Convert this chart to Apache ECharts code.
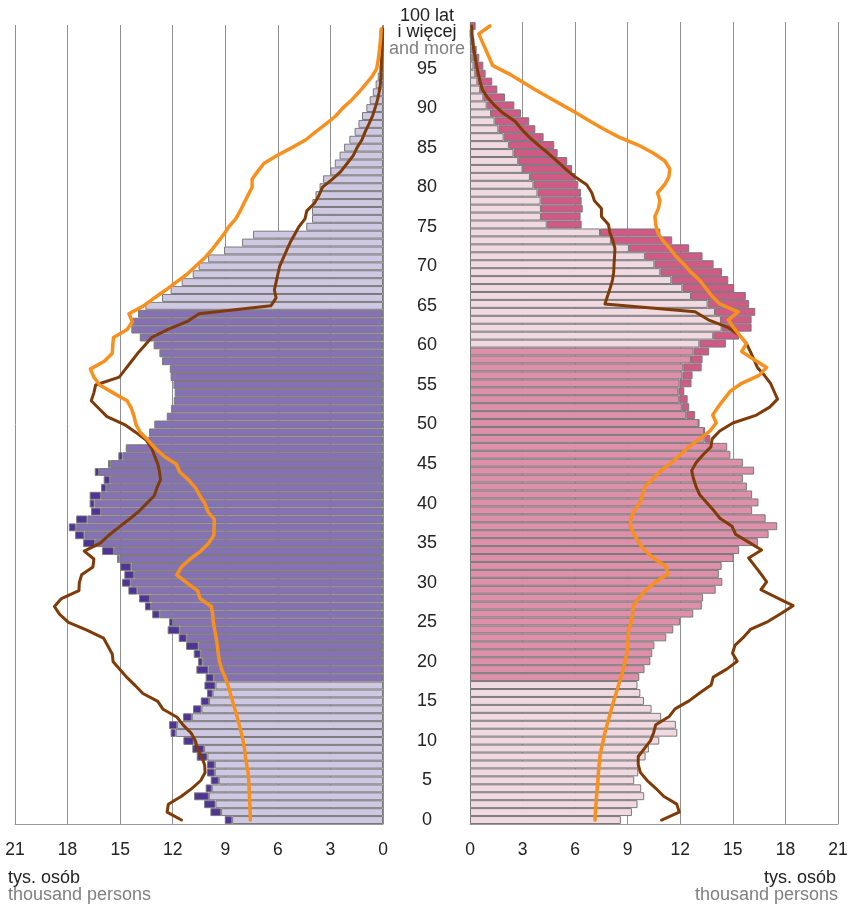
<!DOCTYPE html>
<html>
<head>
<meta charset="utf-8">
<script src="https://cdn.jsdelivr.net/npm/echarts@6/dist/echarts.min.js"></script>
<style>
  html, body { margin: 0; padding: 0; background: #fff; }
  #chart { width: 851px; height: 907px; }
</style>
</head>
<body>
<div id="chart"></div>
<script>
// ages 0..100 (100 = "100 lat i więcej")
var ages = [];
for (var a = 0; a <= 100; a++) ages.push(String(a));

// population, thousand persons (bars)
var males = [
  9.03, 9.85, 10.21, 10.78, 10.12, 9.83, 10.04, 10.04, 10.63, 10.88,
  11.39, 12.12, 12.21, 11.41, 10.84, 10.40, 10.04, 10.19, 10.12, 10.65,
  10.55, 10.80, 11.24, 11.66, 12.29, 12.21, 13.17, 13.58, 13.92, 14.53,
  14.89, 14.76, 14.99, 15.17, 16.03, 17.11, 17.57, 17.93, 17.51, 16.66,
  16.74, 16.74, 16.09, 15.94, 16.45, 15.69, 15.10, 14.68, 13.39, 13.35,
  13.05, 12.34, 12.09, 11.94, 11.89, 11.96, 12.12, 12.17, 12.61, 12.76,
  13.09, 13.88, 14.36, 14.32, 13.98, 13.56, 12.61, 12.12, 11.49, 10.86,
  10.52, 9.98, 9.07, 8.04, 7.42, 4.38, 4.05, 4.05, 4.03, 3.85,
  3.62, 3.42, 3.00, 2.75, 2.48, 2.22, 1.92, 1.62, 1.40, 1.20,
  0.95, 0.76, 0.58, 0.42, 0.30, 0.20, 0.13, 0.08, 0.05, 0.03,
  0.05
];
var females = [
  8.61, 9.24, 9.56, 9.94, 9.77, 9.37, 9.60, 9.60, 10.02, 10.21,
  10.80, 11.83, 11.75, 10.91, 10.36, 9.93, 9.72, 9.56, 9.66, 9.96,
  10.29, 10.40, 10.52, 11.20, 11.60, 11.98, 12.74, 13.23, 13.30, 14.02,
  14.40, 14.20, 14.36, 15.05, 15.36, 16.43, 17.04, 17.53, 16.87, 16.10,
  16.46, 16.10, 15.80, 15.57, 16.21, 15.57, 14.86, 14.68, 13.71, 13.42,
  13.07, 12.85, 12.51, 12.42, 12.23, 12.64, 12.70, 13.22, 13.27, 13.65,
  14.60, 15.35, 16.07, 16.07, 16.28, 15.93, 15.74, 15.08, 14.74, 14.38,
  13.90, 13.27, 12.51, 11.54, 10.86, 6.37, 6.31, 6.43, 6.37, 6.33,
  6.18, 5.99, 5.82, 5.55, 5.00, 4.81, 4.20, 3.73, 3.38, 2.91,
  2.53, 2.00, 1.56, 1.27, 0.89, 0.76, 0.53, 0.38, 0.25, 0.15,
  0.32
];

// comparison lines (thousand persons)
var brownM = [
  11.5, 12.32, 12.25, 11.5, 10.9, 10.4, 10.15, 10.18, 10.35, 10.6,
  10.7, 10.95, 11.4, 11.75, 12.55, 12.85, 13.7, 14.14, 14.6, 15.0,
  15.4, 15.45, 15.7, 15.95, 16.9, 17.95, 18.45, 18.75, 18.35, 17.35,
  17.33, 17.2, 16.55, 16.5, 17.05, 16.13, 15.65, 15.08, 14.5, 13.94,
  13.5, 13.05, 12.9, 12.7, 12.75, 12.85, 13.03, 13.2, 13.5, 14.1,
  14.75, 15.75, 16.2, 16.65, 16.5, 16.4, 15.05, 14.7, 14.35, 14.0,
  13.6, 13.2, 12.3, 11.2, 10.5, 6.4, 6.1, 6.2, 6.1, 6.0,
  5.9, 5.7, 5.5, 5.3, 5.05, 4.8, 4.45, 4.35, 3.9, 3.65,
  3.45, 2.9, 2.4, 2.05, 1.7, 1.48, 1.2, 1.02, 0.8, 0.6,
  0.45, 0.32, 0.22, 0.15, 0.12, 0.1, 0.08, 0.06, 0.04, 0.03,
  0.02
];
var orangeM = [
  7.57, 7.58, 7.6, 7.62, 7.64, 7.66, 7.7, 7.78, 7.85, 7.9,
  7.98, 8.08, 8.2, 8.32, 8.45, 8.58, 8.71, 8.84, 9.0, 9.2,
  9.33, 9.4, 9.45, 9.52, 9.6, 9.68, 9.72, 9.8, 10.44, 10.58,
  11.2, 11.77, 11.5, 11.0, 10.4, 9.95, 9.65, 9.64, 9.62, 10.0,
  10.16, 10.45, 10.7, 11.1, 11.6, 11.8, 12.5, 13.0, 13.4, 13.85,
  14.1, 14.2, 14.35, 14.6, 15.4, 16.17, 16.5, 16.7, 15.9, 15.45,
  15.42, 15.38, 14.6, 14.3, 14.5, 13.66, 13.05, 12.4, 11.8, 11.18,
  10.7, 10.2, 9.8, 9.45, 9.1, 8.8, 8.4, 8.15, 7.93, 7.7,
  7.47, 7.47, 7.15, 6.8, 6.05, 5.2, 4.4, 3.85, 3.25, 2.7,
  2.3, 1.8, 1.38, 1.0, 0.62, 0.36, 0.28, 0.22, 0.17, 0.13,
  0.11
];
var brownF = [
  10.93, 11.94, 11.8, 11.05, 10.6, 10.1, 9.72, 9.6, 9.6, 9.95,
  10.3, 10.48, 10.6, 11.35, 11.7, 12.5, 13.1, 13.76, 13.88, 14.65,
  15.25, 14.98, 15.12, 15.6, 16.0, 17.0, 17.75, 18.44, 17.5, 16.6,
  16.93, 16.6, 16.25, 15.9, 16.64, 15.9, 15.15, 14.95, 14.26, 13.9,
  13.5, 13.1, 12.9, 12.75, 12.65, 12.9, 13.3, 13.75, 13.82, 14.25,
  15.0, 16.35, 17.1, 17.55, 17.35, 17.15, 16.8, 16.4, 16.2, 16.0,
  15.78, 15.4, 14.75, 13.6, 12.84, 7.7, 7.85, 8.0, 8.13, 8.2,
  8.22, 8.25, 8.27, 8.15, 7.98, 7.9, 7.5, 7.5, 7.1, 6.95,
  6.66, 5.99, 5.45, 4.95, 4.45, 3.9, 3.38, 2.95, 2.57, 1.9,
  1.4, 1.0, 0.7, 0.58, 0.47, 0.38, 0.3, 0.22, 0.16, 0.12,
  0.1
];
var orangeF = [
  7.13, 7.16, 7.19, 7.22, 7.26, 7.3, 7.33, 7.37, 7.41, 7.5,
  7.6, 7.7, 7.82, 7.95, 8.07, 8.2, 8.34, 8.48, 8.62, 8.74,
  8.85, 8.95, 9.01, 9.02, 9.05, 9.2, 9.28, 9.32, 9.65, 10.05,
  10.6, 11.3, 11.15, 10.45, 9.95, 9.62, 9.35, 9.15, 9.18, 9.4,
  9.7, 9.85, 10.0, 10.45, 10.9, 11.5, 12.0, 12.5, 13.1, 13.7,
  14.05, 13.85, 14.15, 14.5, 14.85, 15.5, 16.5, 16.93, 16.2, 15.5,
  15.78, 15.4, 15.05, 14.74, 15.3, 14.25, 13.8, 13.45, 13.1, 12.6,
  12.2, 11.75, 11.4, 11.0, 10.7, 10.6, 10.55, 10.75, 10.84, 10.7,
  11.1, 11.35, 11.4, 11.12, 10.45, 9.6, 8.5, 7.65, 6.85, 6.1,
  5.3, 4.5, 3.7, 2.95, 2.2, 1.3, 1.1, 0.9, 0.7, 0.5,
  1.14
];

var xTicks = { min: 0, max: 21, interval: 3 };
var workMale = [18, 64];
var workFemale = [18, 59];

var FONT = 'Liberation Sans, Arial, sans-serif';
var EDGE = '#7a7a7a';

var mBase = [], mExtra = [], fBase = [], fExtra = [];
for (var i = 0; i < ages.length; i++) {
  var lo = Math.min(males[i], females[i]);
  mBase.push(lo);
  fBase.push(lo);
  mExtra.push(males[i] > females[i] ? +(males[i] - females[i]).toFixed(2) : '-');
  fExtra.push(females[i] > males[i] ? +(females[i] - males[i]).toFixed(2) : '-');
}

var dom = document.getElementById('chart');
var myChart = echarts.init(dom, null, { renderer: 'canvas' });

function xAxisFor(grid, inverse) {
  return {
    gridIndex: grid,
    type: 'value',
    min: xTicks.min,
    max: xTicks.max,
    interval: xTicks.interval,
    inverse: inverse,
    axisLine: { show: true, lineStyle: { color: '#999', width: 1 } },
    axisTick: { show: false },
    axisLabel: { color: '#222', fontSize: 17.5, fontFamily: FONT, margin: 17 },
    splitLine: { show: true, lineStyle: { color: '#8f8f8f', width: 1 } }
  };
}

var option = {
  animation: false,
  backgroundColor: '#fff',
  textStyle: { fontFamily: FONT },
  grid: [
    { left: 15, top: 22, width: 368, height: 802 },
    { left: 470, top: 22, width: 368, height: 802 }
  ],
  xAxis: [xAxisFor(0, true), xAxisFor(1, false)],
  yAxis: [
    {
      gridIndex: 0,
      type: 'category',
      data: ages,
      position: 'right',
      axisLine: { show: false },
      axisTick: { show: false },
      splitLine: { show: false },
      axisLabel: {
        interval: function (idx) { return idx % 5 === 0; },
        align: 'center',
        margin: 44,
        color: '#222',
        fontSize: 18,
        fontFamily: FONT,
        formatter: function (v) {
          if (v === '100') return '{a|100 lat}\n{a|i więcej}\n{b|and more}';
          return v;
        },
        rich: {
          a: { color: '#222', fontSize: 18, lineHeight: 16.5, fontFamily: FONT, padding: [7, 0, 0, 0] },
          b: { color: '#808080', fontSize: 18, lineHeight: 16.5, fontFamily: FONT, padding: [7, 0, 0, 0] }
        }
      }
    },
    {
      gridIndex: 1,
      type: 'category',
      data: ages,
      axisLine: { show: false },
      axisTick: { show: false },
      splitLine: { show: false },
      axisLabel: { show: false }
    }
  ],
  series: [
    {
      name: 'mężczyźni',
      type: 'bar',
      xAxisIndex: 0, yAxisIndex: 0,
      stack: 'm',
      barCategoryGap: '0%',
      itemStyle: {
        borderColor: EDGE, borderWidth: 1,
        color: function (p) {
          return (p.dataIndex >= workMale[0] && p.dataIndex <= workMale[1]) ? '#8571b4' : '#cfc8e3';
        }
      },
      data: mBase
    },
    {
      name: 'nadwyżka mężczyzn',
      type: 'bar',
      xAxisIndex: 0, yAxisIndex: 0,
      stack: 'm',
      barCategoryGap: '0%',
      itemStyle: { color: '#4f3396', borderColor: EDGE, borderWidth: 1 },
      data: mExtra
    },
    {
      name: 'kobiety',
      type: 'bar',
      xAxisIndex: 1, yAxisIndex: 1,
      stack: 'f',
      barCategoryGap: '0%',
      itemStyle: {
        borderColor: EDGE, borderWidth: 1,
        color: function (p) {
          return (p.dataIndex >= workFemale[0] && p.dataIndex <= workFemale[1]) ? '#de8fa9' : '#f0d9e1';
        }
      },
      data: fBase
    },
    {
      name: 'nadwyżka kobiet',
      type: 'bar',
      xAxisIndex: 1, yAxisIndex: 1,
      stack: 'f',
      barCategoryGap: '0%',
      itemStyle: { color: '#d15985', borderColor: EDGE, borderWidth: 1 },
      data: fExtra
    },
    {
      type: 'line', xAxisIndex: 0, yAxisIndex: 0,
      data: brownM, symbol: 'none', z: 5,
      lineStyle: { color: '#7f3b08', width: 3, cap: 'round', join: 'round' }
    },
    {
      type: 'line', xAxisIndex: 0, yAxisIndex: 0,
      data: orangeM, symbol: 'none', z: 6,
      lineStyle: { color: '#f7901e', width: 3.5, cap: 'round', join: 'round' }
    },
    {
      type: 'line', xAxisIndex: 1, yAxisIndex: 1,
      data: brownF, symbol: 'none', z: 5,
      lineStyle: { color: '#7f3b08', width: 3, cap: 'round', join: 'round' }
    },
    {
      type: 'line', xAxisIndex: 1, yAxisIndex: 1,
      data: orangeF, symbol: 'none', z: 6,
      lineStyle: { color: '#f7901e', width: 3.5, cap: 'round', join: 'round' }
    }
  ],
  graphic: [
    { type: 'text', left: 8, top: 869, style: { text: 'tys. osób', fill: '#222', font: '18px ' + FONT } },
    { type: 'text', left: 8, top: 886, style: { text: 'thousand persons', fill: '#808080', font: '18px ' + FONT } },
    { type: 'text', right: 15, top: 869, style: { text: 'tys. osób', fill: '#222', font: '18px ' + FONT } },
    { type: 'text', right: 13, top: 886, style: { text: 'thousand persons', fill: '#808080', font: '18px ' + FONT } }
  ]
};

if (option && typeof option === 'object') {
  myChart.setOption(option);
}

window.addEventListener('resize', myChart.resize);
</script>
</body>
</html>
